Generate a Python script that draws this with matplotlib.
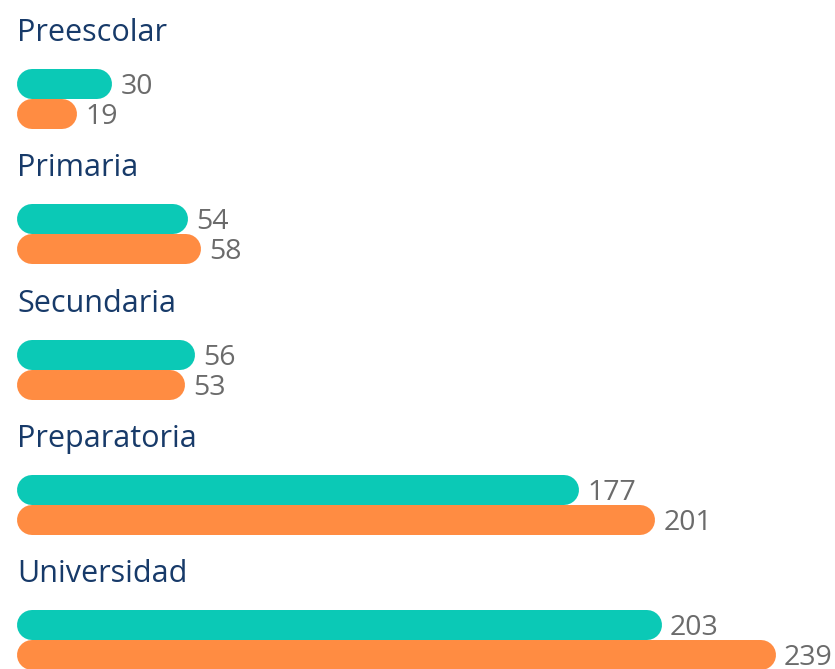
import matplotlib
matplotlib.use("Agg")
import matplotlib.pyplot as plt

categories = ["Preescolar", "Primaria", "Secundaria", "Preparatoria", "Universidad"]
teal_values = [30, 54, 56, 177, 203]
orange_values = [19, 58, 53, 201, 239]

TEAL = "#0bc9b6"
ORANGE = "#ff8c42"
NAVY = "#173a69"
GRAY = "#6b6b6b"

W, H, DPI = 835, 669, 100
LEFT_PX = 17          # left edge of the bars
PX_PER_UNIT = 759 / 239
BAR_PX = 30           # bar thickness
GROUP_PX = 135.3      # distance between groups
FIRST_PX = 84         # centre of the first teal bar

plt.rcParams["font.family"] = ["Open Sans", "DejaVu Sans"]

fig = plt.figure(figsize=(W / DPI, H / DPI), dpi=DPI)
ax = fig.add_axes([0, 0, 1, 1])
ax.set_xlim(-LEFT_PX / PX_PER_UNIT, (W - LEFT_PX) / PX_PER_UNIT)
ax.set_ylim(H, 0)
ax.axis("off")

lw_pt = BAR_PX * 72 / DPI
cap = (BAR_PX / 2) / PX_PER_UNIT


def rounded_bar(y, value, color):
    # round caps stick out by half the line width, so pull the ends in
    ax.plot([cap, value - cap], [y, y], color=color, lw=lw_pt,
            solid_capstyle="round", zorder=2)
    ax.annotate(str(value), xy=(value, y), xytext=(8, -3),
                textcoords="offset pixels", va="center", ha="left",
                fontsize=20.5, color=GRAY)


for i, name in enumerate(categories):
    yt = FIRST_PX + i * GROUP_PX
    yo = yt + BAR_PX
    ax.annotate(name, xy=(0, yt - 43), xytext=(0, 0), textcoords="offset pixels",
                va="baseline", ha="left", fontsize=22, color=NAVY)
    rounded_bar(yo, orange_values[i], ORANGE)
    rounded_bar(yt, teal_values[i], TEAL)

fig.savefig("out.png", dpi=DPI)
